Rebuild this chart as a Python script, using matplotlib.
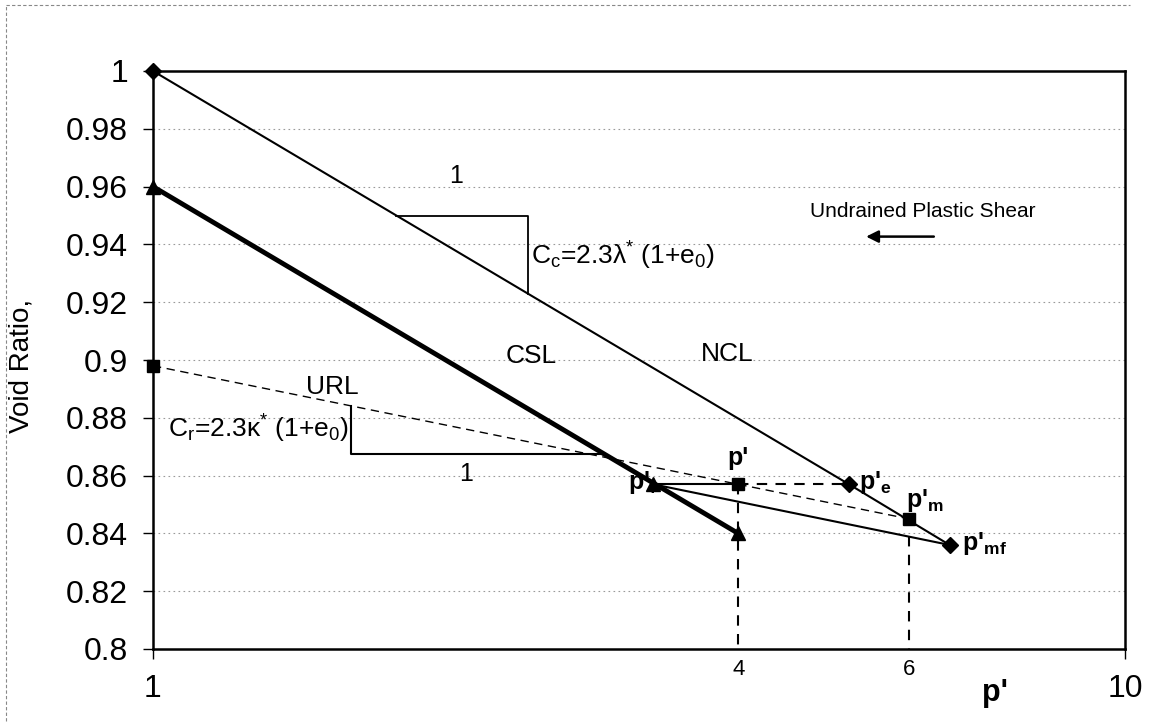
import matplotlib
matplotlib.use("Agg")
import matplotlib.pyplot as plt
import matplotlib.transforms as mtransforms
from matplotlib.lines import Line2D

plt.rcParams["font.family"] = ["Liberation Sans", "DejaVu Sans"]
plt.rcParams["mathtext.fontset"] = "custom"
plt.rcParams["mathtext.rm"] = "Liberation Sans"
plt.rcParams["mathtext.it"] = "Liberation Sans:italic"
plt.rcParams["mathtext.bf"] = "Liberation Sans:bold"

# NCL (normal consolidation line), diamonds
ncl_p = [1.0, 5.2, 6.6]
ncl_e = [1.0, 0.857, 0.836]
# CSL (critical state line), triangles
csl_p = [1.0, 4.0]
csl_e = [0.96, 0.84]
# URL (unload-reload line), squares
url_p = [1.0, 6.0]
url_e = [0.898, 0.845]
# stress path points
pf = (3.27, 0.857)
p0 = (4.0, 0.857)
pe = (5.2, 0.857)
pm = (6.0, 0.845)
pmf = (6.6, 0.836)
# slope triangles
cc_tri_p = [1.778, 2.43, 2.43]
cc_tri_e = [0.95, 0.95, 0.923]
cr_tri_p = [1.6, 1.6, 2.9]
cr_tri_e = [0.884, 0.8675, 0.8675]

y_ticks = [0.8, 0.82, 0.84, 0.86, 0.88, 0.9, 0.92, 0.94, 0.96, 0.98, 1.0]
y_labels = ["0.8", "0.82", "0.84", "0.86", "0.88", "0.9", "0.92", "0.94", "0.96", "0.98", "1"]

fig = plt.figure(figsize=(11.59, 7.25), dpi=100)
ax = fig.add_axes([153 / 1159, 1 - 649 / 725, (1125 - 153) / 1159, (649 - 71) / 725])

ax.set_xscale("log")
ax.set_xlim(1, 10)
ax.set_ylim(0.8, 1.0)

# gridlines
for y in y_ticks[1:-1]:
    ax.axhline(y, color="#9a9a9a", lw=0.8, ls=(0, (1.5, 3)), zorder=0)

# main lines
ax.plot(ncl_p, ncl_e, color="black", lw=1.5, marker="D", ms=8, zorder=3,
        clip_on=False)
ax.plot(csl_p, csl_e, color="black", lw=3.5, marker="^", ms=10, zorder=3,
        clip_on=False)
ax.plot(url_p, url_e, color="black", lw=1.0, ls=(0, (6, 4)), marker="s",
        ms=8, zorder=3, clip_on=False)

# stress path
ax.plot([pf[0], p0[0]], [pf[1], p0[1]], color="black", lw=1.5, zorder=3)
ax.plot([p0[0], pe[0]], [p0[1], pe[1]], color="black", lw=1.5,
        ls=(0, (5, 4)), zorder=3)
ax.plot([pf[0], pmf[0]], [pf[1], pmf[1]], color="black", lw=1.5, zorder=3)
ax.plot([pf[0]], [pf[1]], marker="^", color="black", ms=10, zorder=4)
ax.plot([p0[0]], [p0[1]], marker="s", color="black", ms=8, zorder=4)

# vertical dashed drops
ax.plot([p0[0], p0[0]], [p0[1], 0.8], color="black", lw=1.5,
        ls=(0, (5, 4)), zorder=2)
ax.plot([pm[0], pm[0]], [0.839, 0.8], color="black", lw=1.5,
        ls=(0, (5, 4)), zorder=2)

# slope triangles
ax.plot(cc_tri_p, cc_tri_e, color="black", lw=1.3, zorder=2)
ax.plot(cr_tri_p, cr_tri_e, color="black", lw=1.5, zorder=2)

# text annotations
ax.text(2.05, 0.9636, "1", fontsize=18, ha="center", va="center")
ax.text(2.45, 0.936, r"C$_\mathrm{c}$=2.3λ$^\mathrm{*}$ (1+e$_\mathrm{0}$)",
        fontsize=19, ha="left", va="center")
ax.text(1.035, 0.876, r"C$_\mathrm{r}$=2.3κ$^\mathrm{*}$ (1+e$_\mathrm{0}$)",
        fontsize=19, ha="left", va="center")
ax.text(2.1, 0.8604, "1", fontsize=18, ha="center", va="center")
ax.text(1.53, 0.8905, "URL", fontsize=19, ha="center", va="center")
ax.text(2.45, 0.9015, "CSL", fontsize=19, ha="center", va="center")
ax.text(3.9, 0.902, "NCL", fontsize=19, ha="center", va="center")
ax.text(4.74, 0.9513, "Undrained Plastic Shear", fontsize=15,
        ha="left", va="center")
ax.annotate("", xy=(5.38, 0.9427), xytext=(6.4, 0.9427),
            arrowprops=dict(arrowstyle="-|>", color="black", lw=1.8,
                            mutation_scale=18))

ax.text(4.0, 0.866, "p'", fontsize=18, fontweight="bold",
        ha="center", va="center")
ax.text(3.08, 0.8575, r"p'$_\mathbf{f}$", fontsize=18, fontweight="bold",
        ha="left", va="center")
ax.text(5.32, 0.8575, r"p'$_\mathbf{e}$", fontsize=18, fontweight="bold",
        ha="left", va="center")
ax.text(5.95, 0.8515, r"p'$_\mathbf{m}$", fontsize=18, fontweight="bold",
        ha="left", va="center")
ax.text(6.8, 0.8365, r"p'$_\mathbf{mf}$", fontsize=18, fontweight="bold",
        ha="left", va="center")

# below-axis labels
trans = mtransforms.blended_transform_factory(ax.transData, ax.transAxes)
ax.text(4.0, -0.018, "4", fontsize=16, ha="center", va="top", transform=trans)
ax.text(6.0, -0.018, "6", fontsize=16, ha="center", va="top", transform=trans)
ax.text(7.35, -0.05, "p'", fontsize=22, fontweight="bold", ha="center",
        va="top", transform=trans)

# axes styling
ax.set_yticks(y_ticks)
ax.set_yticklabels(y_labels, fontsize=23)
ax.set_xticks([1, 10])
ax.set_xticklabels(["1", "10"], fontsize=23)
ax.xaxis.set_minor_locator(matplotlib.ticker.NullLocator())
ax.tick_params(axis="y", direction="out", length=7, width=1, pad=11)
ax.tick_params(axis="x", direction="out", length=7, width=1, pad=11)
for side in ["left", "bottom", "top", "right"]:
    ax.spines[side].set_linewidth(1.8)

fig.text(22 / 1159, 1 - 366 / 725, "Void Ratio,", fontsize=20, rotation=90,
         ha="center", va="center")

# outer chart border (left and top only)
fig.add_artist(Line2D([6 / 1159, 6 / 1159], [0.005, 1 - 5 / 725],
                      transform=fig.transFigure, color="#888888", lw=0.8,
                      ls=(0, (3, 2))))
fig.add_artist(Line2D([6 / 1159, 1130 / 1159], [1 - 5 / 725, 1 - 5 / 725],
                      transform=fig.transFigure, color="#888888", lw=0.8,
                      ls=(0, (3, 2))))

fig.savefig("out.png", dpi=100)
